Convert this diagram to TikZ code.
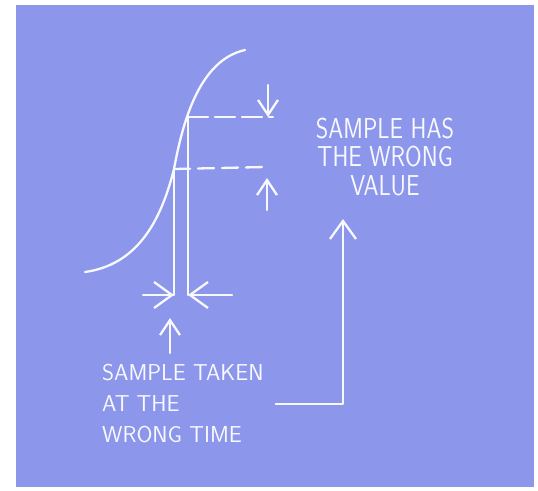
\documentclass[tikz,border=0pt]{standalone}
\usepackage{tikz}
\usetikzlibrary{arrows.meta}
\usetikzlibrary{calc}
\definecolor{paper}{RGB}{140,150,234}
\definecolor{chalk}{RGB}{248,248,255}

\begin{document}
\begin{tikzpicture}[x=1pt,y=-1pt,
  chalk line/.style={chalk, line width=2.3pt, line cap=round, line join=round},
  chalk arrow/.style={chalk line, -{Straight Barb[length=15pt,width=20pt]}},
  wide arrow/.style={chalk line, -{Straight Barb[length=18pt,width=26pt]}},
  chalk text/.style={chalk, inner sep=0pt, font=\sffamily\fontsize{23}{31}\selectfont}]

%---------------------------------------
% Sheet
%---------------------------------------
\useasboundingbox (0,0) rectangle (538,490);
\fill[white] (0,0) rectangle (538,490);
\fill[paper] (16,5) rectangle (534,487);

% Sample heights and times
\def\tw{174}   % wrong time
\def\tr{188}   % right time
\def\vw{169}   % wrong value
\def\vr{117}   % right value
\def\base{295}

%---------------------------------------
% Signal edge
%---------------------------------------
\draw[chalk line] (85,272) .. controls (135,265) and (160,225) .. (\tw,\vw)
                  .. controls (183,120) and (200,60) .. (245,50);

% sample lines
\draw[chalk line] (\tw,\base) -- (\tw,\vw);
\draw[chalk line] (\tr,\base) -- (\tr,\vr);

% value levels
\draw[chalk line, dash pattern=on 20pt off 7pt] (\tr,\vr) -- (273,\vr);
\draw[chalk line, dash pattern=on 16pt off 8pt] (\tw,\vw) -- (265,167);

\coordinate (vtop) at (268,85);
\coordinate (vbot) at (267,210);
\draw[chalk arrow] (vtop) -- (268,\vr);
\draw[chalk arrow] (vbot) -- (267,178);

% time markers
\coordinate (tleft) at (143,\base);
\coordinate (tright) at (232,\base);
\draw[wide arrow] (tleft) -- (\tw,\base);
\draw[wide arrow] (tright) -- (\tr,\base);

%---------------------------------------
% Labels
%---------------------------------------
\node[chalk text, anchor=west, align=left] (timetxt) at (102,404)
  {SAMPLE TAKEN\\AT THE\\WRONG TIME};
\node[chalk text, align=center, font=\sffamily\fontsize{24}{24}\selectfont, yscale=1.2]
  (valtxt) at (385,157) {SAMPLE HAS\\THE WRONG\\VALUE};

\coordinate (valtip) at (343,219);
\draw[chalk arrow] (170,353) -- (170,318);
\draw[wide arrow] ([xshift=12pt]timetxt.east) -| (valtip);

\end{tikzpicture}
\end{document}
